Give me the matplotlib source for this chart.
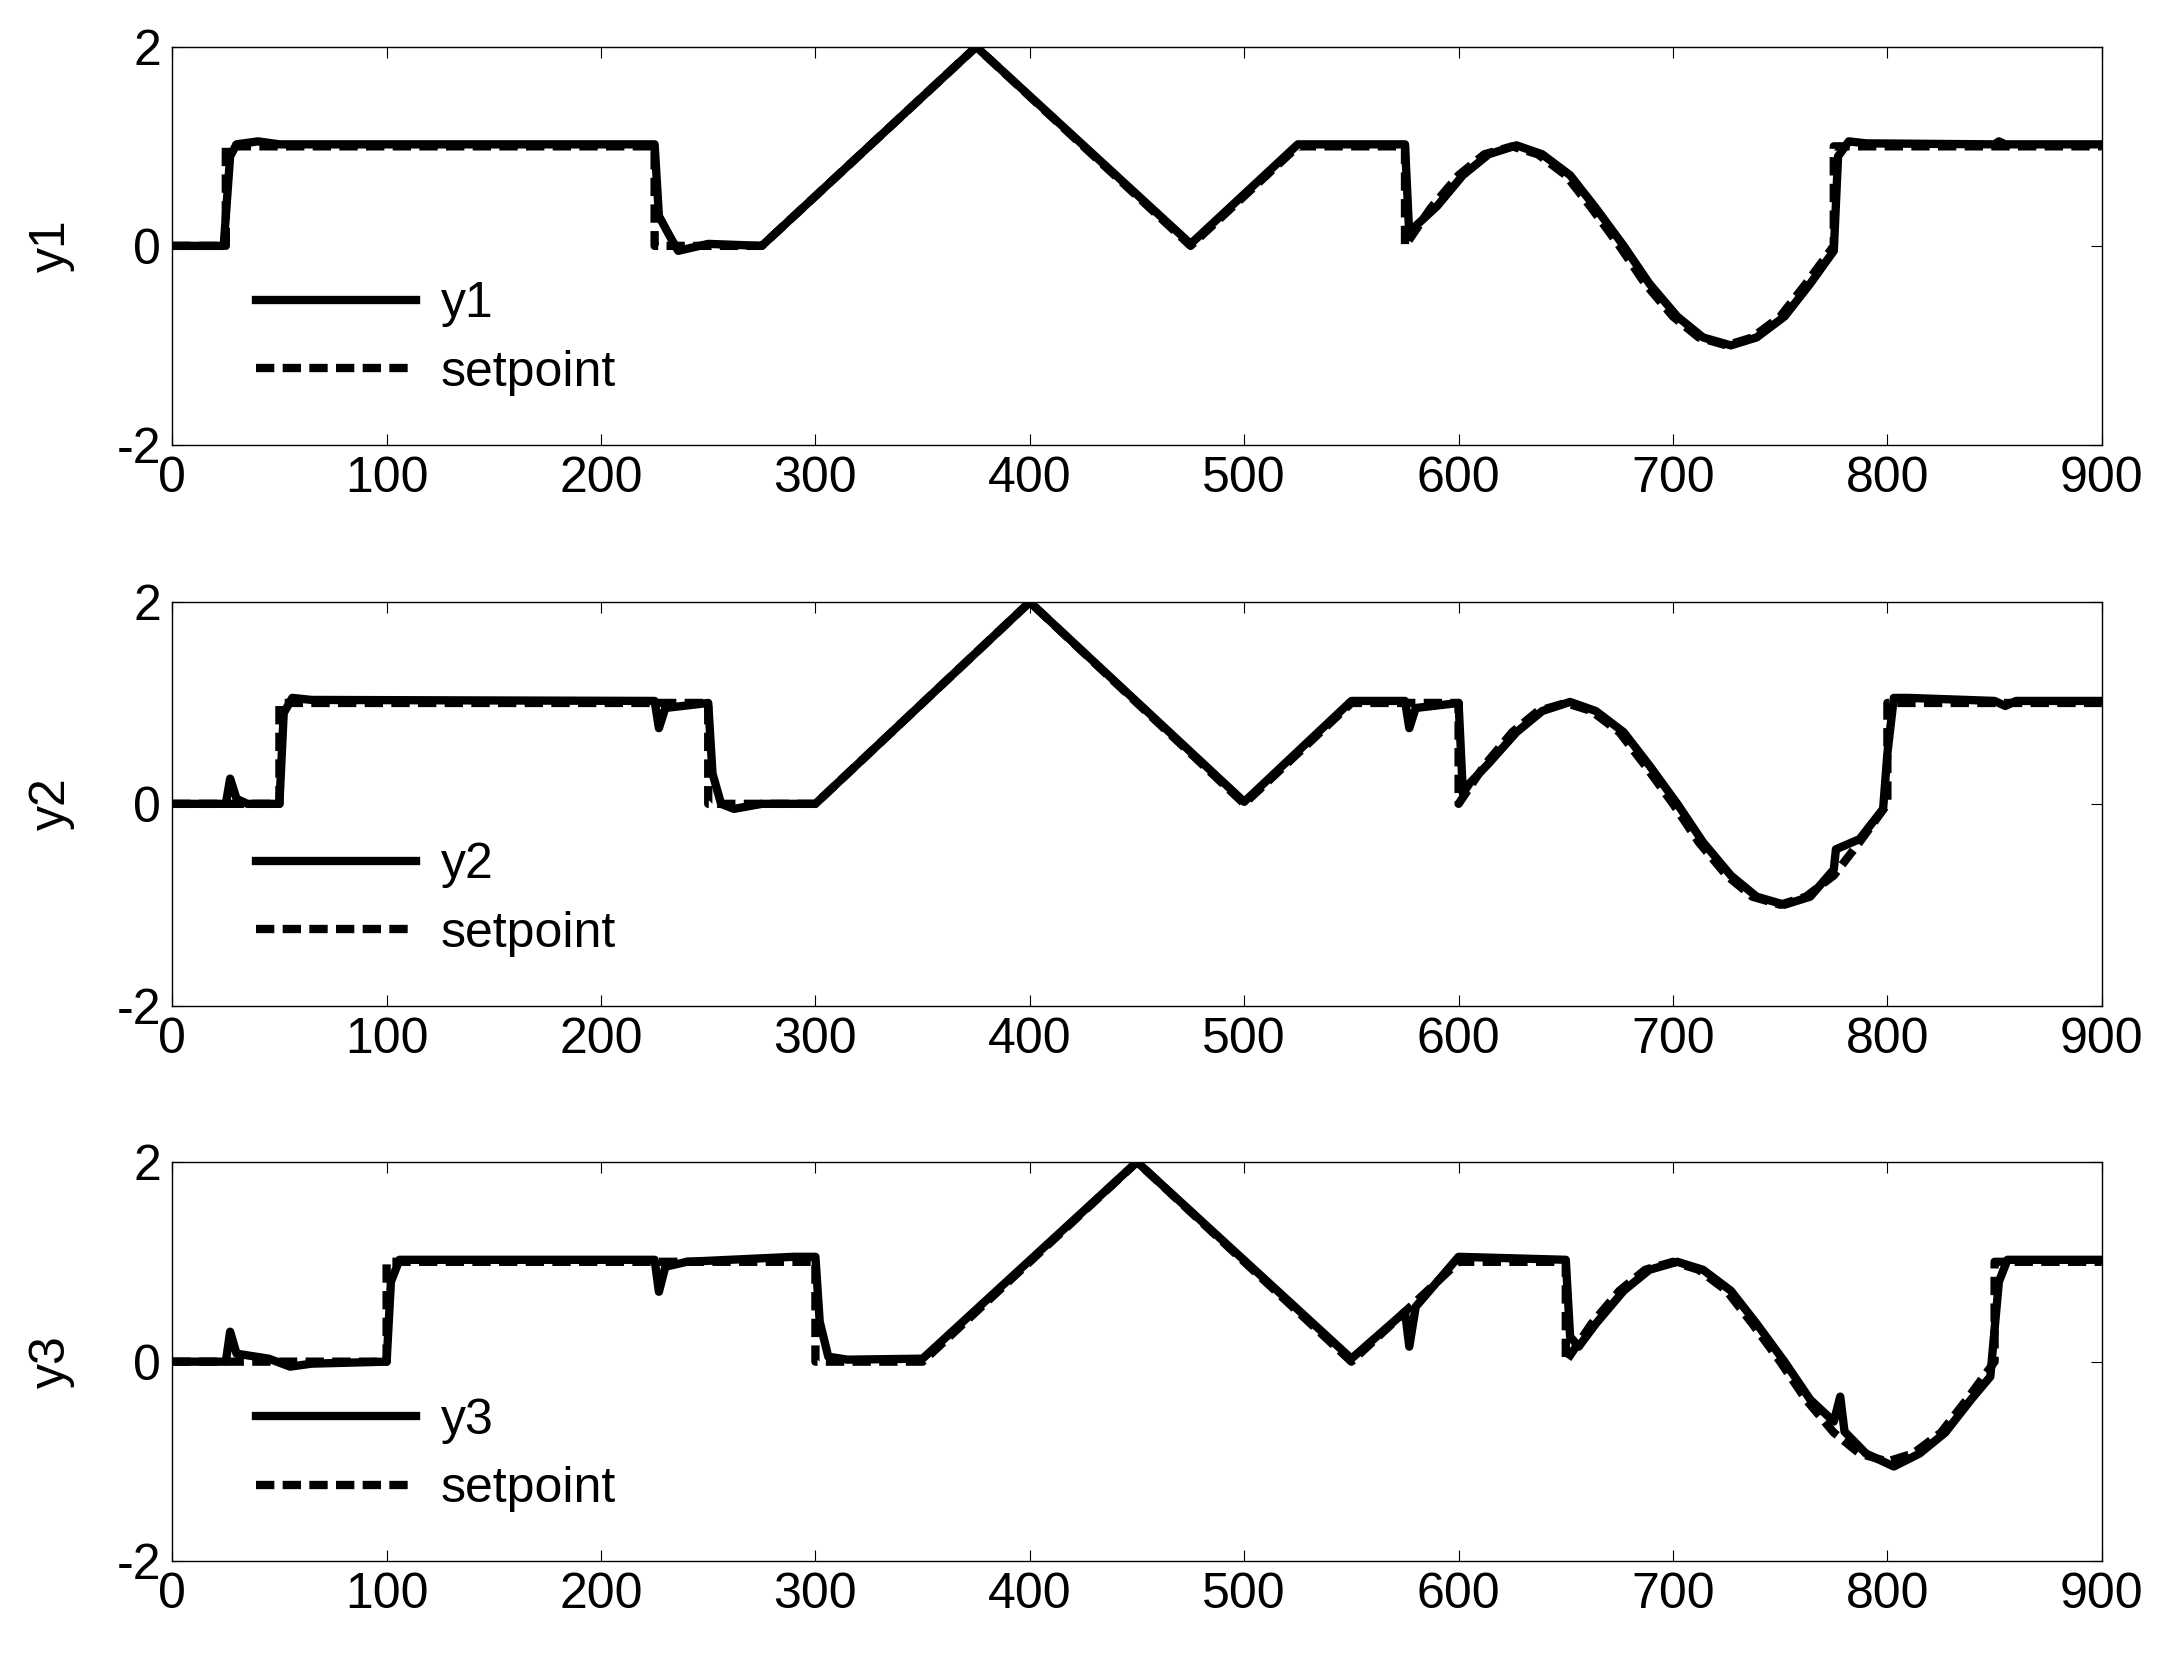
import matplotlib
matplotlib.use("Agg")
import matplotlib.pyplot as plt

plt.rcParams['font.family'] = ['Liberation Sans', 'DejaVu Sans']
plt.rcParams['axes.unicode_minus'] = False

# setpoints (time, value)
sp1_t = [0,25,25,225,225,275,375,475,525,575,575,587,600,612,625,637,650,662,675,687,700,712,725,737,750,762,775,775,900]
sp1_v = [0,0,1,1,0,0,2,0,1,1,0,0.38,0.71,0.92,1,0.92,0.71,0.38,0,-0.38,-0.71,-0.92,-1,-0.92,-0.71,-0.38,0,1,1]
y1_t = [0,24,27,30,40,50,225,227,232,236,250,275,375,475,525,575,577,580,590,602,614,627,639,652,664,677,689,702,714,727,739,752,764,775,777,782,790,850,852,855,900]
y1_v = [0,0,0.9,1.02,1.05,1.02,1.02,0.3,0.1,-0.05,0.02,0,2,0.02,1.02,1.02,0.1,0.2,0.4,0.71,0.92,1.01,0.92,0.71,0.38,0,-0.38,-0.71,-0.92,-1,-0.92,-0.71,-0.38,-0.05,0.9,1.05,1.03,1.02,1.05,1.02,1.02]

sp2_t = [0,50,50,250,250,300,400,500,550,600,600,612,625,637,650,662,675,687,700,712,725,737,750,762,775,787,800,800,900]
sp2_v = [0,0,1,1,0,0,2,0,1,1,0,0.38,0.71,0.92,1,0.92,0.71,0.38,0,-0.38,-0.71,-0.92,-1,-0.92,-0.71,-0.38,0,1,1]
y2_t = [0,25,27,30,35,50,52,56,65,225,227,230,250,252,256,262,275,300,400,500,550,575,577,580,600,602,605,614,627,639,652,664,677,689,702,714,727,739,752,764,775,776,787,798,800,803,810,850,855,860,900]
y2_v = [0,0,0.25,0.05,0,0,0.9,1.05,1.03,1.02,0.75,0.95,1,0.3,0,-0.05,0,0,2,0.02,1.02,1.02,0.75,0.95,1,0.1,0.2,0.4,0.71,0.92,1.01,0.92,0.71,0.38,0,-0.38,-0.71,-0.92,-1,-0.92,-0.65,-0.45,-0.35,-0.05,0.5,1.05,1.05,1.02,0.97,1.02,1.02]

sp3_t = [0,100,100,300,300,350,450,550,600,650,650,662,675,687,700,712,725,737,750,762,775,787,800,812,825,837,850,850,900]
sp3_v = [0,0,1,1,0,0,2,0,1,1,0,0.38,0.71,0.92,1,0.92,0.71,0.38,0,-0.38,-0.71,-0.92,-1,-0.92,-0.71,-0.38,0,1,1]
y3_t = [0,25,27,30,45,55,65,100,102,106,225,227,230,240,290,300,302,306,315,350,450,550,575,577,580,600,650,652,656,664,677,689,702,714,727,739,752,764,775,778,780,790,803,815,827,839,848,852,856,900]
y3_v = [0,0,0.3,0.08,0.03,-0.05,-0.02,0,0.8,1.02,1.02,0.7,0.95,1.0,1.05,1.05,0.4,0.05,0.02,0.03,2,0.03,0.5,0.15,0.55,1.05,1.02,0.25,0.15,0.38,0.71,0.92,1.0,0.92,0.71,0.38,0,-0.38,-0.6,-0.35,-0.7,-0.92,-1.05,-0.92,-0.71,-0.38,-0.15,0.8,1.02,1.02]

series = [("y1", y1_t, y1_v, sp1_t, sp1_v),
          ("y2", y2_t, y2_v, sp2_t, sp2_v),
          ("y3", y3_t, y3_v, sp3_t, sp3_v)]
xticks = list(range(0, 901, 100))
yticks = [-2, 0, 2]

fig = plt.figure(figsize=(21.61, 16.54), dpi=100)
boxes = [(0.731, 0.9717), (0.392, 0.636), (0.056, 0.2975)]
for (name, yt, yv, st, sv), (b, t) in zip(series, boxes):
    ax = fig.add_axes([0.0797, b, 0.9726 - 0.0797, t - b])
    ax.plot(yt, yv, color='black', lw=6, label=name)
    ax.plot(st, sv, color='black', lw=6, ls=(0, (2.2, 1.0)), label='setpoint')
    ax.set_xlim(0, 900)
    ax.set_ylim(-2, 2)
    ax.set_xticks(xticks)
    ax.set_yticks(yticks)
    ax.tick_params(direction='in', labelsize=36, length=8, top=True, right=True, pad=8)
    ax.set_ylabel(name, fontsize=36, labelpad=30)
    for s in ax.spines.values():
        s.set_linewidth(1)
    ax.legend(loc='lower left', bbox_to_anchor=(0.02, 0.01), frameon=False,
              fontsize=36, handlelength=3.2, handletextpad=0.5, labelspacing=0.45)
fig.savefig("out.png", dpi=100)
